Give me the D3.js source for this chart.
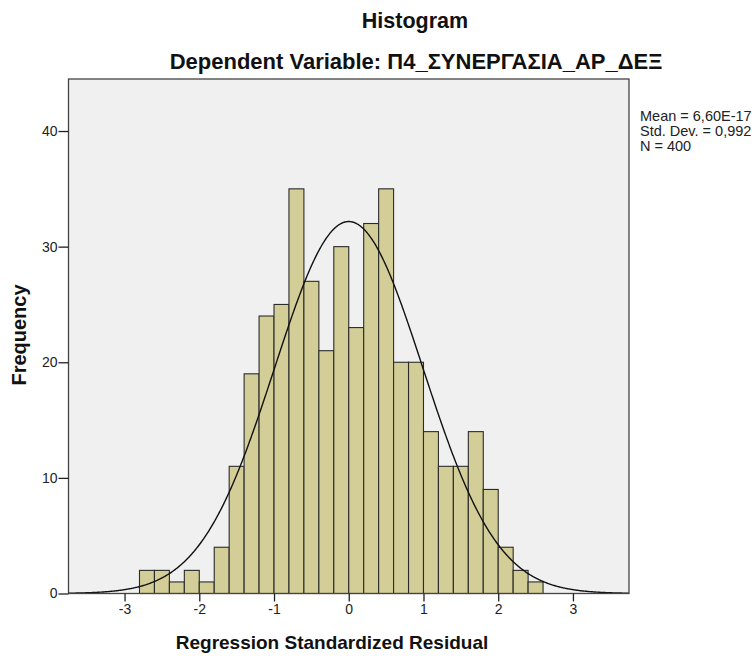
<!DOCTYPE html>
<html>
<head>
<meta charset="utf-8">
<script src="https://cdn.jsdelivr.net/npm/d3@7"></script>
<style>
  html, body { margin: 0; padding: 0; background: #fff; }
  svg { display: block; font-family: "Liberation Sans", Arial, sans-serif; }
</style>
</head>
<body>
<svg id="chart" width="754" height="656"></svg>
<script>
// ---- Data ----
const binStarts = [-2.8, -2.6, -2.4, -2.2, -2.0, -1.8, -1.6, -1.4, -1.2, -1.0, -0.8, -0.6, -0.4, -0.2,
                   0.0, 0.2, 0.4, 0.6, 0.8, 1.0, 1.2, 1.4, 1.6, 1.8, 2.0, 2.2, 2.4];
const binWidth = 0.2;
const frequencies = [2, 2, 1, 2, 1, 4, 11, 19, 24, 25, 35, 27, 21, 30,
                     23, 32, 35, 20, 20, 14, 11, 11, 14, 9, 4, 2, 1];
const xTicks = [-3, -2, -1, 0, 1, 2, 3];
const yTicks = [0, 10, 20, 30, 40];
const statsMean = 6.60e-17;
const statsSD = 0.992;
const statsN = 400;
const legendLines = ["Mean = 6,60E-17", "Std. Dev. = 0,992", "N = 400"];
const titleText = "Histogram";
const subtitleText = "Dependent Variable: Π4_ΣΥΝΕΡΓΑΣΙΑ_ΑΡ_ΔΕΞ";
const xLabel = "Regression Standardized Residual";
const yLabel = "Frequency";

// ---- Layout ----
const plot = { left: 68.5, right: 629, top: 79, bottom: 593.5 };
const svg = d3.select("#chart");

const x = d3.scaleLinear().domain([-3.75, 3.75]).range([plot.left, plot.right]);
const y = d3.scaleLinear().domain([0, 44.5]).range([plot.bottom, plot.top]);

// plot background
svg.append("rect")
  .attr("x", plot.left).attr("y", plot.top)
  .attr("width", plot.right - plot.left).attr("height", plot.bottom - plot.top)
  .attr("fill", "#f0f0f0");

// bars
svg.append("g").selectAll("rect")
  .data(binStarts.map((s, i) => ({ s, f: frequencies[i] })))
  .join("rect")
  .attr("x", d => x(d.s))
  .attr("y", d => y(d.f))
  .attr("width", d => x(d.s + binWidth) - x(d.s))
  .attr("height", d => y(0) - y(d.f))
  .attr("fill", "#d3ce97")
  .attr("stroke", "#2b2b2b")
  .attr("stroke-width", 1.1);

// normal curve
const scale = statsN * binWidth;
const pdf = v => scale / (statsSD * Math.sqrt(2 * Math.PI)) * Math.exp(-0.5 * ((v - statsMean) / statsSD) ** 2);
const curvePts = d3.range(-3.75, 3.7501, 0.01).map(v => [v, pdf(v)]);
svg.append("path")
  .datum(curvePts)
  .attr("fill", "none")
  .attr("stroke", "#111")
  .attr("stroke-width", 1.4)
  .attr("d", d3.line().x(d => x(d[0])).y(d => y(d[1])));

// frame
svg.append("rect")
  .attr("x", plot.left).attr("y", plot.top)
  .attr("width", plot.right - plot.left).attr("height", plot.bottom - plot.top)
  .attr("fill", "none").attr("stroke", "#444").attr("stroke-width", 1.3);

// axes
const fmt = d => String(d);
const xAxis = d3.axisBottom(x).tickValues(xTicks).tickSize(8).tickPadding(3).tickFormat(fmt);
const gx = svg.append("g").attr("transform", `translate(0,${plot.bottom})`).call(xAxis);
gx.select(".domain").remove();
gx.selectAll("line").attr("stroke", "#222").attr("stroke-width", 1.3);
gx.selectAll("text").attr("font-size", 14).attr("fill", "#222")
  .attr("font-family", "'Liberation Sans', Arial, sans-serif");

const yAxis = d3.axisLeft(y).tickValues(yTicks).tickSize(10).tickPadding(1).tickFormat(fmt);
const gy = svg.append("g").attr("transform", `translate(${plot.left},0)`).call(yAxis);
gy.select(".domain").remove();
gy.selectAll("line").attr("stroke", "#222").attr("stroke-width", 1.3);
gy.selectAll("text").attr("font-size", 14).attr("fill", "#222")
  .attr("font-family", "'Liberation Sans', Arial, sans-serif");

// titles
svg.append("text").attr("x", 415).attr("y", 28).attr("text-anchor", "middle")
  .attr("font-size", 21.5).attr("font-weight", "bold").attr("fill", "#111").text(titleText);
svg.append("text").attr("x", 416).attr("y", 69).attr("text-anchor", "middle")
  .attr("font-size", 22).attr("font-weight", "bold").attr("fill", "#111").text(subtitleText);

// axis labels
svg.append("text").attr("x", 332).attr("y", 649).attr("text-anchor", "middle")
  .attr("font-size", 19).attr("font-weight", "bold").attr("fill", "#111").text(xLabel);
svg.append("text").attr("transform", "translate(25.5,335) rotate(-90)").attr("text-anchor", "middle")
  .attr("font-size", 20).attr("font-weight", "bold").attr("fill", "#111").text(yLabel);

// legend stats
svg.append("g").selectAll("text").data(legendLines).join("text")
  .attr("x", 640).attr("y", (d, i) => 121 + i * 14.8)
  .attr("font-size", 14.5).attr("fill", "#222").text(d => d);
</script>
</body>
</html>
